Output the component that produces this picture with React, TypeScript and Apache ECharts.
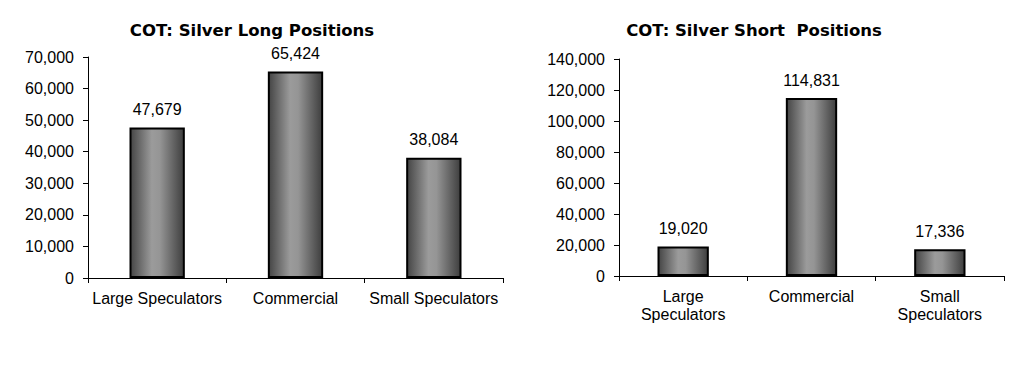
import React, { useEffect, useRef } from "react";
import * as echarts from "echarts";

const longCategories = ["Large Speculators", "Commercial", "Small Speculators"];
const longValues = [47679, 65424, 38084];
const shortCategories = ["Large\nSpeculators", "Commercial", "Small\nSpeculators"];
const shortValues = [19020, 114831, 17336];
const longTitle = "COT: Silver Long Positions";
const shortTitle = "COT: Silver Short  Positions";

const fmt = (v: number) => v.toLocaleString("en-US");

const barGradient = () =>
  new echarts.graphic.LinearGradient(0, 0, 1, 0, [
    { offset: 0, color: "#454545" },
    { offset: 0.4, color: "#9b9b9b" },
    { offset: 0.55, color: "#959595" },
    { offset: 1, color: "#3e3e3e" },
  ]);

const FONT = "'Liberation Sans', Arial, sans-serif";

export default function App() {
  const ref = useRef<HTMLDivElement>(null);
  useEffect(() => {
    if (!ref.current) return;
    const chart = echarts.init(ref.current, null, { renderer: "svg" });
    const axisLabel = { color: "#000", fontSize: 16, fontFamily: FONT };
    const catAxis = (gridIndex: number, data: string[]) => ({
      type: "category",
      gridIndex,
      data,
      axisLine: { show: true, lineStyle: { color: "#000", width: 1 } },
      axisTick: { show: true, length: 5, alignWithLabel: false, lineStyle: { color: "#000" } },
      axisLabel: { ...axisLabel, margin: 11, lineHeight: 18, interval: 0 },
    });
    const valAxis = (gridIndex: number, max: number, interval: number) => ({
      type: "value",
      gridIndex,
      min: 0,
      max,
      interval,
      axisLine: { show: true, lineStyle: { color: "#000", width: 1 } },
      axisTick: { show: true, length: 5, lineStyle: { color: "#000" } },
      splitLine: { show: false },
      axisLabel: { ...axisLabel, margin: 14, formatter: (v: number) => fmt(v) },
    });
    const barSeries = (idx: number, data: number[]) => ({
      type: "bar",
      xAxisIndex: idx,
      yAxisIndex: idx,
      data,
      barWidth: "40%",
      itemStyle: { color: barGradient(), borderColor: "#000", borderWidth: 2 },
      label: {
        show: true,
        position: "top",
        distance: 10,
        color: "#000",
        fontSize: 16,
        fontFamily: FONT,
        formatter: (p: any) => fmt(p.value),
      },
    });
    chart.setOption({
      animation: false,
      backgroundColor: "#fff",
      grid: [
        { left: 88, top: 57, width: 415, height: 221 },
        { left: 619, top: 59, width: 385, height: 217 },
      ],
      xAxis: [catAxis(0, longCategories), catAxis(1, shortCategories)],
      yAxis: [valAxis(0, 70000, 10000), valAxis(1, 140000, 20000)],
      series: [barSeries(0, longValues), barSeries(1, shortValues)],
      graphic: [
        {
          type: "text",
          x: 252,
          y: 30,
          style: {
            text: longTitle,
            textAlign: "center",
            textVerticalAlign: "middle",
            font: "bold 16.5px 'DejaVu Sans', Verdana, sans-serif",
            fill: "#000",
          },
        },
        {
          type: "text",
          x: 754,
          y: 30,
          style: {
            text: shortTitle,
            textAlign: "center",
            textVerticalAlign: "middle",
            font: "bold 16.5px 'DejaVu Sans', Verdana, sans-serif",
            fill: "#000",
          },
        },
      ],
    });
    return () => chart.dispose();
  }, []);
  return (
    <div
      ref={ref}
      style={{ position: "fixed", left: 0, top: 0, width: 1029, height: 370, background: "#fff" }}
    />
  );
}
